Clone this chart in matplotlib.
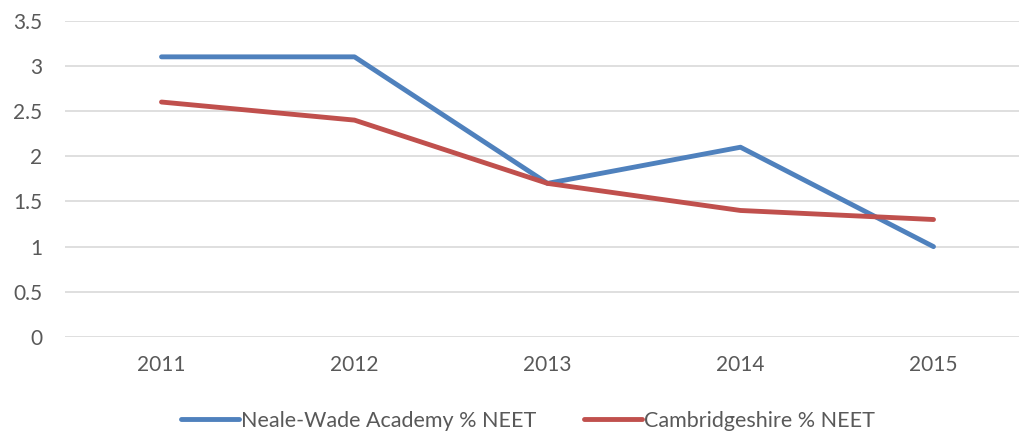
import matplotlib.pyplot as plt

years = ["2011", "2012", "2013", "2014", "2015"]
neale_wade = [3.1, 3.1, 1.7, 2.1, 1.0]
cambs = [2.6, 2.4, 1.7, 1.4, 1.3]

plt.rcParams['font.family'] = ['Lato', 'DejaVu Sans']
txt = "#595959"

fig = plt.figure(figsize=(10.19, 4.34), dpi=100)
ax = fig.add_axes([65 / 1019, 1 - 337 / 434, (1030 - 65) / 1019, (337 - 20.7) / 434])

x = range(len(years))
ax.plot(x, neale_wade, color="#4F81BD", lw=3.5, solid_capstyle="round",
        label="Neale-Wade Academy % NEET")
ax.plot(x, cambs, color="#C0504D", lw=3.5, solid_capstyle="round",
        label="Cambridgeshire % NEET")

ax.set_xlim(-0.5, 4.5)
ax.set_ylim(0, 3.5)
ax.set_yticks([0, 0.5, 1, 1.5, 2, 2.5, 3, 3.5])
ax.set_yticklabels(["0", "0.5", "1", "1.5", "2", "2.5", "3", "3.5"])
ax.set_xticks(list(x))
ax.set_xticklabels(years)
ax.grid(axis="y", color="#D9D9D9", lw=1.2)
ax.set_axisbelow(True)
for s in ax.spines.values():
    s.set_visible(False)
ax.tick_params(length=0, labelsize=15, colors=txt, pad=13)
ax.tick_params(axis="y", pad=16.5)

leg = fig.legend(loc="center", bbox_to_anchor=(528 / 1019, 1 - 421 / 434), ncol=2,
                 frameon=False, fontsize=15.5, handlelength=2.7, handletextpad=0.1,
                 columnspacing=2.2)
for t in leg.get_texts():
    t.set_color(txt)

fig.savefig("out.png", dpi=100)
